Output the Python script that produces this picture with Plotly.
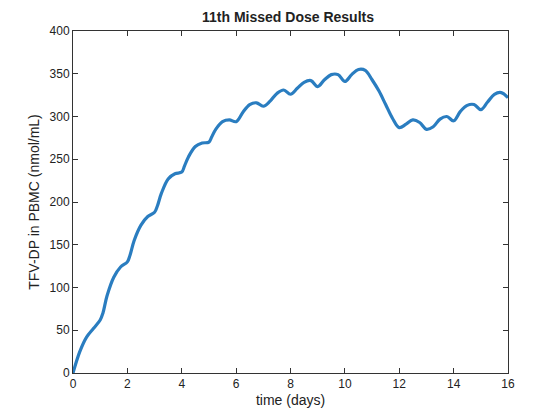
import plotly.graph_objects as go

# values
days = [0, 0.25, 0.5, 0.75, 1.0, 1.1, 1.25, 1.5, 1.75, 2.0, 2.1, 2.25, 2.5, 2.75,
        3.0, 3.1, 3.25, 3.5, 3.75, 4.0, 4.1, 4.25, 4.5, 4.75, 5.0, 5.1, 5.25, 5.5,
        5.75, 6.0, 6.25, 6.5, 6.75, 7.0, 7.25, 7.5, 7.75, 8.0, 8.25, 8.5, 8.75,
        9.0, 9.25, 9.5, 9.75, 10.0, 10.25, 10.5, 10.75, 11.0, 11.25, 11.5, 11.75,
        12.0, 12.25, 12.5, 12.75, 13.0, 13.25, 13.5, 13.75, 14.0, 14.25, 14.5,
        14.75, 15.0, 15.25, 15.5, 15.75, 16.0]
tfv_dp = [0, 25, 42, 52, 62, 70, 90, 112, 124, 130, 138, 155, 173, 183,
          188, 195, 210, 227, 233, 235, 242, 253, 265, 269, 270, 276, 285, 294,
          296, 294, 305, 314, 316, 312, 318, 327, 331, 326, 333, 340, 342,
          335, 343, 349, 349, 341, 349, 355, 354, 343, 330, 314, 298,
          287, 291, 296, 293, 285, 288, 297, 300, 295, 306, 313,
          314, 308, 317, 326, 328, 322]

fig = go.Figure(go.Scatter(x=days, y=tfv_dp, mode="lines",
                           line=dict(color="#2a7dc0", width=3.2, shape="spline")))

axis = dict(showgrid=False, zeroline=False, showline=True, linecolor="#333",
            linewidth=1, mirror="ticks", ticks="inside", ticklen=5,
            tickcolor="#333", tickfont=dict(size=12, color="#222"))
fig.update_layout(
    width=560, height=420, plot_bgcolor="white", paper_bgcolor="white",
    margin=dict(l=65, r=60, t=23, b=55),
    font=dict(family="Liberation Sans, Arial", color="#222"),
    showlegend=False,
    title=dict(text="<b>11th Missed Dose Results</b>", x=0.5, xanchor="center",
               y=0.99, yanchor="top", font=dict(size=14)),
    xaxis=dict(axis, range=[0, 16], dtick=2,
               title=dict(text="time (days)", standoff=4, font=dict(size=14))),
    yaxis=dict(axis, range=[0, 400], dtick=50,
               title=dict(text="TFV-DP in PBMC (nmol/mL)", standoff=6, font=dict(size=14))),
)

fig.write_html("out.html")
